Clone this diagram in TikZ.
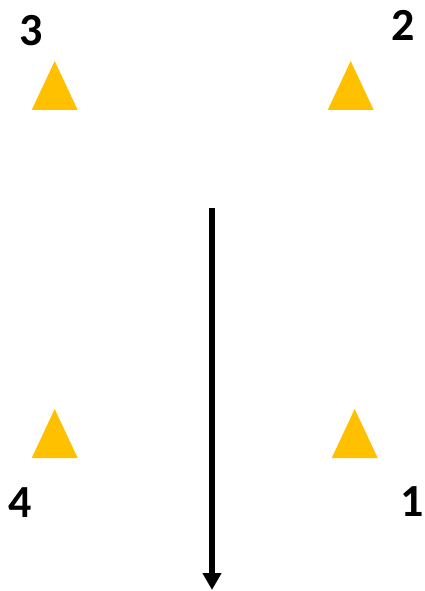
\documentclass[tikz,border=0pt]{standalone}
\usepackage{fontspec}
\setmainfont{Carlito}
\usepackage{tikz}
\usetikzlibrary{arrows.meta}
\definecolor{coneyellow}{HTML}{FFC000}

\begin{document}
\begin{tikzpicture}[x=1pt, y=-1pt,
    cone/.style={fill=coneyellow},
    num/.style={font=\fontsize{46}{46}\selectfont\bfseries, inner sep=0pt}]
    \useasboundingbox (0,0) rectangle (424,591);
    % cones (apex positions)
    \foreach \cx/\cy in {54.7/61, 350.7/61, 54.7/409, 354.7/409}
      \fill[cone] (\cx,\cy) -- ++(23,49) -- ++(-46,0) -- cycle;
    \node[num] (n3) at (31.5,31) {3};
    \node[num] (n2) at (403.5,25) {2};
    \node[num] (n4) at (19.7,503) {4};
    \node[num] (n1) at (411.7,502) {1};
    % direction of travel
    \coordinate (start) at (212,208);
    \coordinate (stop) at (212,590);
    \draw[line width=6pt, -{Triangle[width=18pt, length=17pt]}] (start) -- (stop);
  \end{tikzpicture}
\end{document}
